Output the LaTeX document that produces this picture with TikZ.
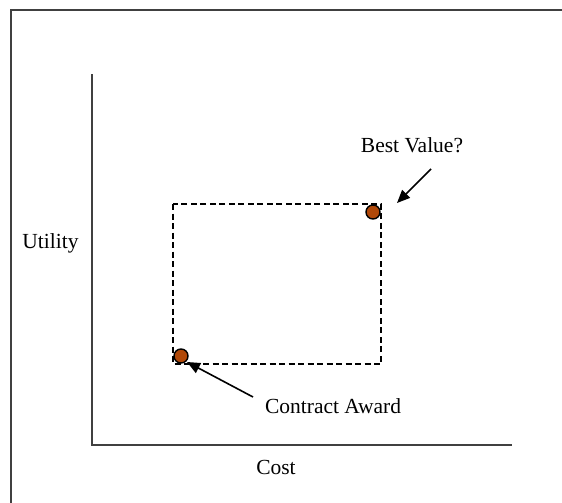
\documentclass[tikz,border=0pt]{standalone}
\usepackage{fontspec}
\setmainfont{Liberation Serif}
\usetikzlibrary{arrows.meta}
\definecolor{dotbrown}{RGB}{176,72,8}
\definecolor{axisgray}{RGB}{64,64,64}
\tikzset{
  lbl/.style={font=\fontsize{21.5}{25}\selectfont, inner sep=0pt},
  axisline/.style={draw=axisgray, line width=2pt},
  dashbox/.style={draw=black, line width=1.4pt, dash pattern=on 6pt off 3.5pt},
  dot/.style={circle, draw=black, line width=1.4pt, fill=dotbrown, minimum size=14pt, inner sep=0pt},
  pointer/.style={draw=black, line width=1.6pt, -{Triangle[length=13pt,width=11pt]}}
}
\begin{document}
\begin{tikzpicture}[x=1pt,y=-1pt]
\useasboundingbox (0,0) rectangle (562,503);
% frame (only top and left visible)
\coordinate (ftl) at (11,10);
\coordinate (ftr) at (562,10);
\coordinate (fbl) at (11,503);
\draw[axisline] (ftr) -- (ftl) -- (fbl);
% axes
\coordinate (ytop) at (92,74);
\coordinate (origin) at (92,445);
\coordinate (xend) at (512,445);
\draw[axisline] (ytop) -- (origin) -- (xend);
% dashed box
\draw[dashbox] (173,204) rectangle (381,364);
% dots
\node[dot] (best) at (373,212) {};
\node[dot] (award) at (181,356) {};
% labels
\node[lbl] (bestlbl) at (412,145) {Best Value?};
\node[lbl] (awardlbl) at (333,406) {Contract Award};
\node[lbl] (util) at (50.5,243) {Utility};
\node[lbl] (cost) at (276,467) {Cost};
% pointers
\coordinate (bstart) at (431,169);
\coordinate (bend) at (397,203);
\draw[pointer] (bstart) -- (bend);
\coordinate (astart) at (253,397);
\coordinate (aend) at (187,362);
\draw[pointer] (astart) -- (aend);
\end{tikzpicture}
\end{document}
